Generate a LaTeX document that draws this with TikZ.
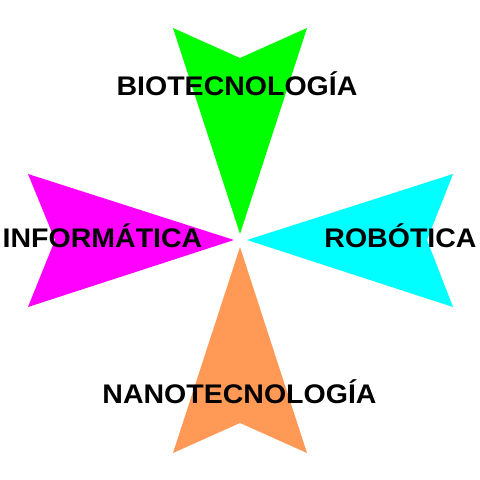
\documentclass[tikz,border=0pt]{standalone}
\usepackage{fontspec}
\setmainfont{Liberation Sans}
\definecolor{cgreen}{RGB}{0,255,0}
\definecolor{cmag}{RGB}{255,0,255}
\definecolor{ccyan}{RGB}{0,255,255}
\definecolor{corange}{RGB}{255,153,85}
\tikzset{lbl/.style={anchor=base,font=\fontsize{27}{27}\selectfont\bfseries,inner sep=0pt,xscale=1.06}}
\begin{document}
\begin{tikzpicture}[x=1bp,y=-1bp]
\useasboundingbox (0,0) rectangle (480,480);
\fill[cgreen] (173,28) -- (240,58) -- (307,28) -- (240,234) -- cycle;
\fill[cmag] (28,174) -- (55,240) -- (28,307) -- (234,240) -- cycle;
\fill[ccyan] (453,174) -- (427,240) -- (453,307) -- (247,240) -- cycle;
\fill[corange] (173,453) -- (240,423) -- (307,453) -- (240,247) -- cycle;
\node[lbl] (bio) at (237,96) {BIOTECNOLOGÍA};
\node[lbl] (inf) at (102.5,247) {INFORMÁTICA};
\node[lbl] (rob) at (400.5,247) {ROBÓTICA};
\node[lbl] (nano) at (239.5,403) {NANOTECNOLOGÍA};
\end{tikzpicture}
\end{document}
